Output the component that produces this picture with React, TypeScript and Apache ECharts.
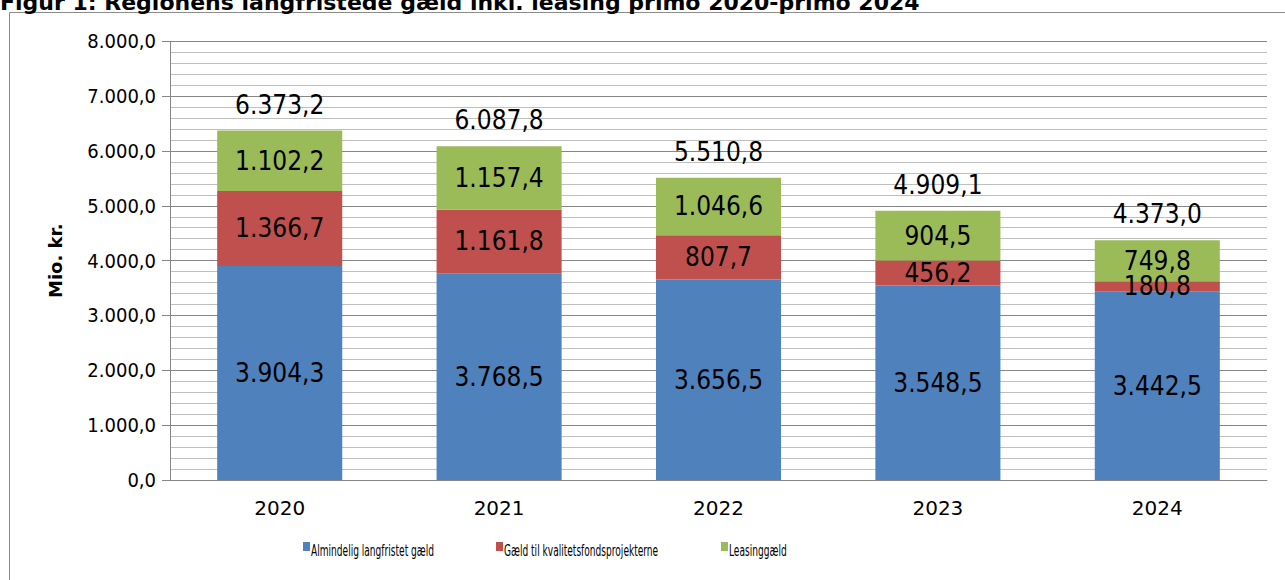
import React, { useEffect, useRef } from "react";
import * as echarts from "echarts";

const categories = ["2020", "2021", "2022", "2023", "2024"];
const almindelig = [3904.3, 3768.5, 3656.5, 3548.5, 3442.5];
const kvalitet = [1366.7, 1161.8, 807.7, 456.2, 180.8];
const leasing = [1102.2, 1157.4, 1046.6, 904.5, 749.8];
const totals = [6373.2, 6087.8, 5510.8, 4909.1, 4373.0];
const seriesNames = [
  "Almindelig langfristet gæld",
  "Gæld til kvalitetsfondsprojekterne",
  "Leasinggæld",
];
const colors = ["#4F81BD", "#C0504D", "#9BBB59"];
const titleText =
  "Figur 1: Regionens langfristede gæld inkl. leasing primo 2020-primo 2024";
const yAxisName = "Mio. kr.";

const FONT = "'DejaVu Sans Condensed', 'DejaVu Sans', sans-serif";

function fmt(v: number): string {
  const fixed = v.toFixed(1);
  const [i, d] = fixed.split(".");
  return i.replace(/\B(?=(\d{3})+(?!\d))/g, ".") + "," + d;
}

export default function App() {
  const ref = useRef<HTMLDivElement>(null);
  useEffect(() => {
    if (!ref.current) return;
    const chart = echarts.init(ref.current, undefined, { renderer: "svg" });
    const values = [almindelig, kvalitet, leasing];
    const legendLefts = [303, 496, 721];
    chart.setOption({
      animation: false,
      backgroundColor: "#ffffff",
      textStyle: { fontFamily: FONT },
      graphic: [
        {
          type: "rect",
          shape: { x: 9.5, y: 12.5, width: 1400, height: 700 },
          style: { fill: "none", stroke: "#8c8c8c", lineWidth: 1 },
          silent: true,
        },
        {
          type: "text",
          x: 0,
          y: 2,
          style: {
            text: titleText,
            font: "bold 22px 'DejaVu Sans', sans-serif",
            fill: "#000",
            verticalAlign: "middle",
            align: "left",
          },
        },
        ...seriesNames.map((n, i) => ({
          type: "text",
          x: legendLefts[i] + 8,
          y: 551,
          scaleX: 0.63,
          style: {
            text: n,
            font: "16px " + FONT,
            fill: "#000",
            verticalAlign: "middle",
            align: "left",
          },
        })),
      ],
      grid: { left: 170, top: 41.3, right: 18, bottom: 100, containLabel: false },
      legend: seriesNames.map((n, i) => ({
        data: [n],
        left: legendLefts[i],
        top: 542,
        padding: 0,
        icon: "rect",
        itemWidth: 7,
        itemHeight: 9,
        itemGap: 0,
        formatter: () => "",
        textStyle: { fontSize: 9, padding: 0, lineHeight: 16 },
      })),
      xAxis: {
        type: "category",
        data: categories,
        axisLine: { show: true, lineStyle: { color: "#868686", width: 1 } },
        axisTick: { show: false },
        axisLabel: {
          fontFamily: "'DejaVu Sans', sans-serif",
          fontSize: 20,
          color: "#000",
          margin: 18,
        },
        splitLine: { show: false },
      },
      yAxis: {
        type: "value",
        min: 0,
        max: 8000,
        interval: 1000,
        name: yAxisName,
        nameLocation: "middle",
        nameGap: 106,
        nameTextStyle: {
          fontFamily: "'DejaVu Sans', sans-serif",
          fontWeight: "bold",
          fontSize: 18,
          color: "#000",
        },
        axisLine: { show: true, lineStyle: { color: "#868686", width: 1 } },
        axisTick: { show: true, length: 8, lineStyle: { color: "#868686" } },
        axisLabel: {
          formatter: (v: number) => fmt(v),
          fontSize: 20,
          color: "#000",
          margin: 14,
        },
        splitLine: { show: true, lineStyle: { color: "#868686", width: 1 } },
        minorTick: { show: false, splitNumber: 5 },
        minorSplitLine: { show: true, lineStyle: { color: "#bfbfbf", width: 1 } },
      },
      series: [
        ...seriesNames.map((n, i) => ({
          name: n,
          type: "bar",
          stack: "total",
          data: values[i],
          barWidth: "57%",
          itemStyle: { color: colors[i] },
          label: {
            show: true,
            position: "inside",
            formatter: (p: any) => fmt(p.value),
            fontSize: 26,
            color: "#000",
          },
        })),
        {
          name: "Total",
          type: "scatter",
          data: totals,
          symbolSize: 0,
          itemStyle: { color: "#000000", opacity: 1 },
          label: {
            show: true,
            position: "top",
            distance: 13,
            formatter: (p: any) => fmt(p.value),
            fontSize: 26,
            color: "#000000",
          },
          labelLayout: { hideOverlap: false },
          z: 10,
        },
      ],
    });
    return () => chart.dispose();
  }, []);
  return (
    <div
      ref={ref}
      style={{ position: "fixed", left: 0, top: 0, width: 1285, height: 580 }}
    />
  );
}
